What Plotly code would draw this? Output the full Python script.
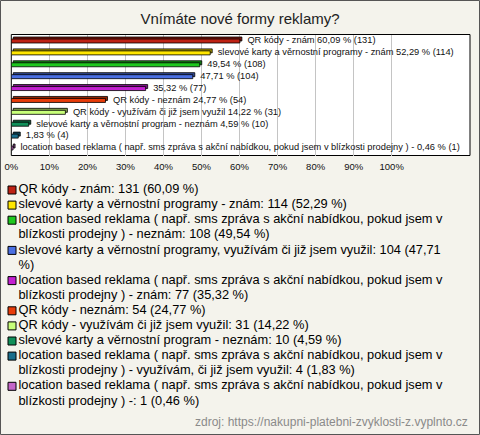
import textwrap
import plotly.graph_objects as go

W, H = 480, 435

title = "Vnímáte nové formy reklamy?"
names = [
    "QR kódy - znám",
    "slevové karty a věrnostní programy - znám",
    "location based reklama ( např. sms zpráva s akční nabídkou, pokud jsem v blízkosti prodejny ) - neznám",
    "slevové karty a věrnostní programy, využívám či již jsem využil",
    "location based reklama ( např. sms zpráva s akční nabídkou, pokud jsem v blízkosti prodejny ) - znám",
    "QR kódy - neznám",
    "QR kódy - využívám či již jsem využil",
    "slevové karty a věrnostní program - neznám",
    "location based reklama ( např. sms zpráva s akční nabídkou, pokud jsem v blízkosti prodejny ) - využívám, či již jsem využil",
    "location based reklama ( např. sms zpráva s akční nabídkou, pokud jsem v blízkosti prodejny ) -",
]
counts = [131, 114, 108, 104, 77, 54, 31, 10, 4, 1]
percents = [60.09, 52.29, 49.54, 47.71, 35.32, 24.77, 14.22, 4.59, 1.83, 0.46]
# bars whose label also carries the answer text
show_name = [True, True, False, False, False, True, True, True, False, True]
colors = ["#be2214", "#ffe600", "#1ec81e", "#4a6fe2", "#c21fd0",
          "#e83c0a", "#c8ff7a", "#10905a", "#1a6e8c", "#c466c8"]
tick_vals = [0, 10, 20, 30, 40, 50, 60, 70, 80, 90, 100]
tick_text = [f"{v}%" for v in tick_vals]
source = "zdroj: https://nakupni-platebni-zvyklosti-z.vyplnto.cz"

FONT = "Arial, Liberation Sans, sans-serif"
BG = "#f4f3ec"


def fmt(p):
    return f"{p:.2f}".replace(".", ",")


def darker(c, k=0.65):
    r, g, b = int(c[1:3], 16), int(c[3:5], 16), int(c[5:7], 16)
    return f"rgb({int(r*k)},{int(g*k)},{int(b*k)})"


ys = list(range(len(names)))
bar_labels = [(n + " " if s else "") + f"{fmt(p)} % ({c})"
              for n, s, p, c in zip(names, show_name, percents, counts)]

# pixel geometry of the bar area
px_per_pct = 3.804
px_per_row = 11.9
face = 4.0 / px_per_row
depth_y = 2.0 / px_per_row
depth_x = 2.0 / px_per_pct
label_gap = 5.5 / px_per_pct

fig = go.Figure()

# back face (3D depth)
fig.add_trace(go.Bar(
    x=percents, y=ys, base=depth_x, orientation="h",
    width=face, offset=-face / 2 - depth_y,
    marker=dict(color=[darker(c) for c in colors], line=dict(color="black", width=0.8)),
    hoverinfo="skip", showlegend=False,
))
# front face
fig.add_trace(go.Bar(
    x=percents, y=ys, orientation="h",
    width=face, offset=-face / 2,
    marker=dict(color=colors, line=dict(color="black", width=0.8)),
    hoverinfo="skip", showlegend=False,
))
fig.add_trace(go.Scatter(
    x=[p + depth_x + label_gap for p in percents], y=ys, mode="text", text=bar_labels,
    textposition="middle right", cliponaxis=False,
    textfont=dict(family=FONT, size=9.3, color="#111"),
    hoverinfo="skip", showlegend=False,
))

# legend drawn on a pixel-scaled overlay axis
leg_top, leg_step, leg_text_x, leg_box_x = 190, 15.1, 18.5, 12
box_x, box_y, line_x, line_y, line_t = [], [], [], [], []
row = 0
for n, c, p in zip(names, counts, percents):
    lines = textwrap.wrap(f"{n}: {c} ({fmt(p)} %)", 75)
    box_x.append(leg_box_x)
    box_y.append(leg_top + row * leg_step)
    for ln in lines:
        line_x.append(leg_text_x)
        line_y.append(leg_top + row * leg_step)
        line_t.append(ln)
        row += 1

fig.add_trace(go.Scatter(
    x=box_x, y=box_y, xaxis="x2", yaxis="y2", mode="markers",
    marker=dict(symbol="square", size=8, color=colors, line=dict(color="black", width=1)),
    hoverinfo="skip", showlegend=False,
))
fig.add_trace(go.Scatter(
    x=line_x, y=line_y, xaxis="x2", yaxis="y2", mode="text", text=line_t,
    textposition="middle right", cliponaxis=False,
    textfont=dict(family=FONT, size=12.8, color="black"),
    hoverinfo="skip", showlegend=False,
))

x0, x1 = 11.3, 470
y0, y1 = 34.5, 155.5
fig.update_layout(
    width=W, height=H,
    margin=dict(l=0, r=0, t=0, b=0),
    paper_bgcolor=BG, plot_bgcolor="rgba(0,0,0,0)",
    barmode="overlay",
    font=dict(family=FONT, color="black"),
    title=dict(text=title, x=0.5, xanchor="center", y=1 - 19 / H, yanchor="middle",
               yref="container", font=dict(size=15, color="#222")),
    xaxis=dict(domain=[x0 / W, x1 / W], range=[0, (x1 - x0) / px_per_pct],
               tickvals=tick_vals, ticktext=tick_text, showgrid=True, gridcolor="#c4c4c4",
               gridwidth=1, zeroline=False, ticks="", ticklabelstandoff=4,
               automargin=False, tickfont=dict(size=9.5, color="#111"), fixedrange=True),
    yaxis=dict(domain=[1 - y1 / H, 1 - y0 / H],
               range=[9 + (y1 - 148) / px_per_row, -(41 - y0) / px_per_row],
               automargin=False, showticklabels=False, showgrid=False, zeroline=False,
               fixedrange=True),
    xaxis2=dict(domain=[0, 1], range=[0, W], visible=False, anchor="y2", fixedrange=True),
    yaxis2=dict(domain=[0, 1], range=[H, 0], visible=False, anchor="x2", fixedrange=True),
    shapes=[
        dict(type="rect", xref="x domain", yref="y domain", x0=0, x1=1, y0=0, y1=1,
             fillcolor="white", line=dict(color="black", width=1), layer="below"),
        dict(type="rect", xref="paper", yref="paper", x0=0.5 / W, x1=1 - 0.5 / W,
             y0=0.5 / H, y1=1 - 0.5 / H, line=dict(color="#555", width=1)),
    ],
    annotations=[
        dict(text=source, xref="paper", yref="paper", x=470 / W, y=1 - 422 / H,
             xanchor="right", yanchor="middle", showarrow=False,
             font=dict(size=12, color="#8a8a8a")),
    ],
)

fig.write_html("out.html", config={"displayModeBar": False},
               post_script="document.body.style.margin='0';")
